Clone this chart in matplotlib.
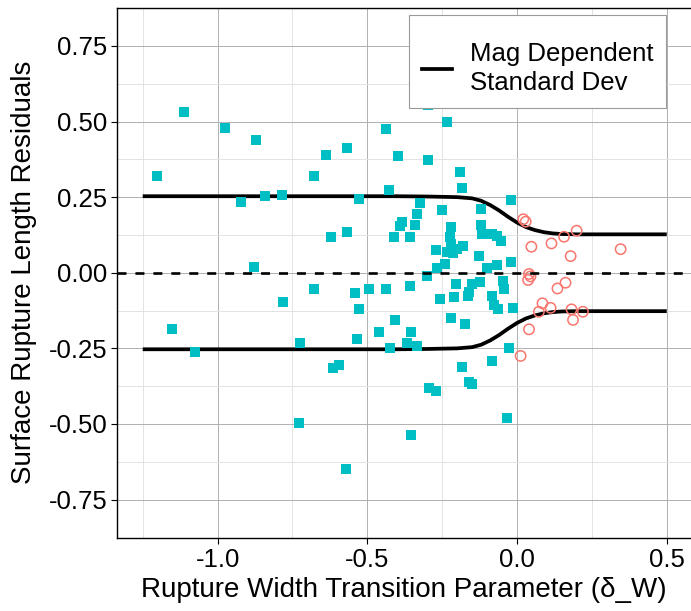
import matplotlib
matplotlib.use("Agg")
import matplotlib.pyplot as plt
from matplotlib.lines import Line2D

plt.rcParams['font.family'] = ['Liberation Sans', 'DejaVu Sans']
plt.rcParams['axes.unicode_minus'] = False

# ---------------------------------------------------------
# Residuos (delta_W < 0 -> cuadrados, delta_W > 0 -> circulos)
# ---------------------------------------------------------
neg_x = [-1.203, -1.111, -1.152, -1.077, -0.976, -0.921, -0.873, -0.841, -0.879, -0.786,
         -0.783, -0.725, -0.729, -0.677, -0.677, -0.638, -0.621, -0.614, -0.596, -0.569,
         -0.569, -0.571, -0.542, -0.534, -0.527, -0.527, -0.494, -0.460, -0.438, -0.436,
         -0.428, -0.425, -0.412, -0.406, -0.397, -0.390, -0.383, -0.369, -0.358, -0.358,
         -0.354, -0.353, -0.341, -0.333, -0.333, -0.325, -0.300, -0.298, -0.298, -0.295,
         -0.272, -0.270, -0.267, -0.256, -0.251, -0.242, -0.235, -0.233, -0.224, -0.222,
         -0.222, -0.222, -0.215, -0.211, -0.205, -0.200, -0.192, -0.183, -0.183, -0.180,
         -0.174, -0.164, -0.161, -0.160, -0.152, -0.149, -0.127, -0.124, -0.121, -0.119,
         -0.116, -0.099, -0.085, -0.085, -0.083, -0.077, -0.066, -0.066, -0.064, -0.055,
         -0.047, -0.043, -0.032, -0.027, -0.021, -0.021, -0.012]
neg_y = [0.321, 0.531, -0.187, -0.263, 0.478, 0.234, 0.438, 0.254, 0.018, 0.257,
         -0.096, -0.233, -0.498, 0.321, -0.053, 0.388, 0.118, -0.316, -0.305, 0.412,
         0.134, -0.649, -0.068, -0.220, 0.245, -0.120, -0.055, -0.196, 0.476, -0.053,
         0.274, -0.250, 0.117, -0.156, 0.386, 0.153, 0.169, -0.231, 0.119, -0.045,
         -0.195, -0.537, 0.157, 0.195, -0.242, 0.229, -0.011, 0.553, 0.373, -0.381,
         -0.390, 0.076, 0.015, -0.087, 0.208, 0.028, 0.497, 0.069, 0.119, 0.151,
         0.095, -0.151, 0.064, -0.079, -0.037, 0.077, 0.333, 0.281, -0.312, 0.088,
         -0.169, -0.076, -0.063, -0.362, -0.368, -0.037, 0.056, -0.030, 0.159, 0.210,
         0.128, 0.017, -0.077, -0.292, 0.128, -0.105, 0.121, 0.025, -0.121, 0.105,
         -0.027, -0.054, -0.480, -0.250, 0.240, 0.036, -0.118]

pos_x = [0.021, 0.029, 0.199, 0.157, 0.115, 0.048, 0.179, 0.346, 0.040, 0.045,
         0.037, 0.162, 0.135, 0.085, 0.073, 0.112, 0.182, 0.220, 0.187, 0.040, 0.012]
pos_y = [0.177, 0.169, 0.139, 0.119, 0.097, 0.086, 0.055, 0.078, -0.004, -0.012,
         -0.024, -0.033, -0.052, -0.101, -0.129, -0.116, -0.121, -0.129, -0.156, -0.187, -0.275]

# Desviacion estandar dependiente de la magnitud
sd_x = [-1.25, -0.40, -0.30, -0.20, -0.15, -0.12, -0.09, -0.06, -0.03, 0.00,
        0.03, 0.06, 0.09, 0.12, 0.15, 0.20, 0.30, 0.50]
sd_sup = [0.253, 0.253, 0.252, 0.250, 0.246, 0.238, 0.224, 0.206, 0.185, 0.166,
          0.151, 0.141, 0.134, 0.130, 0.128, 0.127, 0.127, 0.127]
sd_inf = [-0.253, -0.253, -0.252, -0.250, -0.246, -0.238, -0.224, -0.206, -0.185, -0.166,
          -0.151, -0.141, -0.134, -0.130, -0.128, -0.127, -0.127, -0.127]

x_ticks = [-1.0, -0.5, 0.0, 0.5]
x_tick_labels = ['-1.0', '-0.5', '0.0', '0.5']
x_minor = [-1.25, -0.75, -0.25, 0.25]
y_ticks = [-0.75, -0.5, -0.25, 0.0, 0.25, 0.5, 0.75]
y_tick_labels = ['-0.75', '-0.50', '-0.25', '0.00', '0.25', '0.50', '0.75']
y_minor = [-0.625, -0.375, -0.125, 0.125, 0.375, 0.625]

# ==============
# Figura
# ==============
fig = plt.figure(figsize=(6.91, 6.11), dpi=100)
ax = fig.add_axes([117/691, 1 - 538/611, 1 - 117/691, (538 - 7.5)/611])

ax.set_xlim(-1.336, 0.581)
ax.set_ylim(-0.877, 0.877)

ax.set_xticks(x_ticks)
ax.set_xticklabels(x_tick_labels)
ax.set_xticks(x_minor, minor=True)
ax.set_yticks(y_ticks)
ax.set_yticklabels(y_tick_labels)
ax.set_yticks(y_minor, minor=True)

ax.grid(True, which='major', color='#b0b0b0', linewidth=0.7)
ax.grid(True, which='minor', color='#e3e3e3', linewidth=0.7)
ax.set_axisbelow(True)

ax.tick_params(which='major', length=4, width=0.8, color='black', labelsize=18.5,
               labelcolor='black', pad=3)
ax.tick_params(which='minor', length=0)

for lado in ['left', 'bottom', 'top']:
    ax.spines[lado].set_color('black')
    ax.spines[lado].set_linewidth(1.0)
ax.spines['right'].set_visible(False)

ax.plot(sd_x, sd_sup, color='black', linewidth=2.7, zorder=2, solid_capstyle='butt')
ax.plot(sd_x, sd_inf, color='black', linewidth=2.7, zorder=2, solid_capstyle='butt')

ax.scatter(neg_x, neg_y, marker='s', s=60, color='#00BFC4', linewidths=0, zorder=3)
ax.scatter(pos_x, pos_y, marker='o', s=55, facecolors='none', edgecolors='#F8766D',
           linewidths=1.1, zorder=3)

ax.axhline(0, color='black', linewidth=1.9, dashes=(3.4, 3.4), zorder=4)

ax.set_xlabel('Rupture Width Transition Parameter (δ_W)', fontsize=20, labelpad=4)
ax.set_ylabel('Surface Rupture Length Residuals', fontsize=20, labelpad=8)

# Leyenda (titulo vacio como en ggplot, deja hueco arriba)
handle = Line2D([], [], color='black', linewidth=2.7)
leg = ax.legend([handle], ['Mag Dependent\nStandard Dev'], loc='upper right',
                bbox_to_anchor=((666 - 117)/574, 1 - 7.5/530.5), borderaxespad=0,
                fontsize=18.5, frameon=True, fancybox=False, framealpha=1,
                title=' ', title_fontsize=1,
                handlelength=1.15, handletextpad=0.7, borderpad=0.5)
for t in leg.get_texts():
    t.set_linespacing(1.3)
leg.get_frame().set_edgecolor('#9a9a9a')
leg.get_frame().set_linewidth(0.8)
leg.set_zorder(10)

fig.savefig('out.png', dpi=100)
